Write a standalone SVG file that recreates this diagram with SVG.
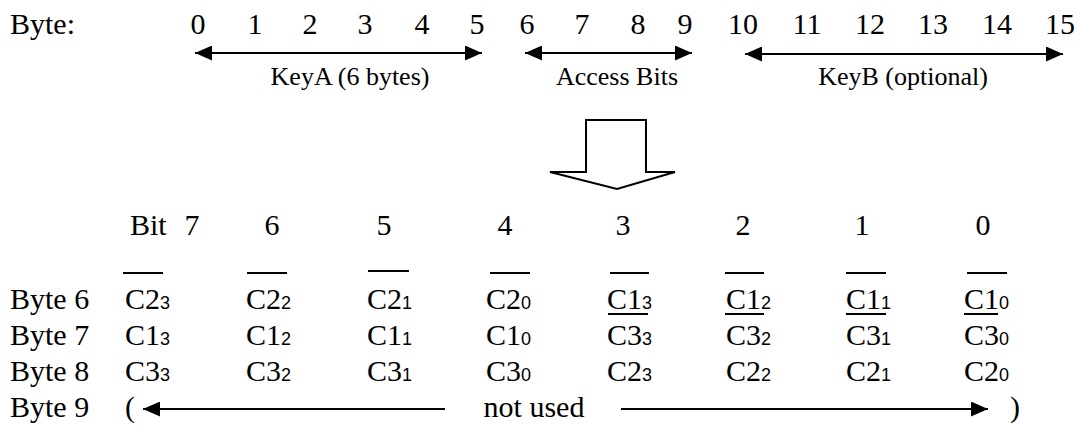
<svg xmlns="http://www.w3.org/2000/svg" width="1081" height="425" viewBox="0 0 1081 425" font-family="'Liberation Serif', 'Times New Roman', Tinos, 'DejaVu Serif', serif">
<style>
.t{font-family:'Liberation Serif','Times New Roman',Tinos,'DejaVu Serif',serif;fill:#000}
.big{font-size:30px}
.lbl{font-size:26px}
.mid{text-anchor:middle}
.sub{font-family:'Liberation Sans',Arial,sans-serif;font-size:18px}
.ln{stroke:#000;stroke-width:2;fill:none}
.arr{stroke:#000;stroke-width:2.2;fill:none}
</style>
<defs>
<marker id="ah" markerUnits="userSpaceOnUse" markerWidth="18" markerHeight="15" refX="17" refY="7.5" orient="auto-start-reverse">
<path d="M0,0 L17,7.5 L0,15 z" fill="#000"/>
</marker>
</defs>
<rect width="1081" height="425" fill="#fff"/>
<g id="byte-header" class="t">
<text class="big" x="10" y="34">Byte:</text>
<g class="big mid">
<text x="198" y="34">0</text><text x="255" y="34">1</text><text x="310" y="34">2</text><text x="365" y="34">3</text><text x="422" y="34">4</text><text x="477" y="34">5</text>
<text x="527" y="34">6</text><text x="582" y="34">7</text><text x="638" y="34">8</text><text x="685" y="34">9</text>
<text x="743" y="34">10</text><text x="807" y="34">11</text><text x="870" y="34">12</text><text x="933" y="34">13</text><text x="997" y="34">14</text><text x="1060" y="34">15</text>
</g>
</g>
<g id="connectors">
<line class="arr" x1="195" y1="53" x2="482" y2="53" marker-start="url(#ah)" marker-end="url(#ah)"/>
<line class="arr" x1="525" y1="53" x2="692" y2="53" marker-start="url(#ah)" marker-end="url(#ah)"/>
<line class="arr" x1="745" y1="54" x2="1063" y2="54" marker-start="url(#ah)" marker-end="url(#ah)"/>
<line class="arr" x1="143" y1="409" x2="445" y2="409" marker-start="url(#ah)"/>
<line class="arr" x1="621" y1="409" x2="988" y2="409" marker-end="url(#ah)"/>
</g>
<g id="keyA" class="t"><text class="lbl mid" x="350" y="85">KeyA (6 bytes)</text></g>
<g id="access-bits" class="t"><text class="lbl mid" x="617" y="85">Access Bits</text></g>
<g id="keyB" class="t"><text class="lbl mid" x="903" y="85">KeyB (optional)</text></g>
<g id="big-arrow">
<polygon class="ln" points="586,120 646,120 646,172 675,172 617,189 550,172 586,172"/>
</g>
<g id="bit-header" class="t big">
<text x="130" y="235">Bit</text>
<g class="mid">
<text x="192" y="235">7</text><text x="272" y="235">6</text><text x="384" y="235">5</text><text x="505" y="235">4</text>
<text x="623" y="235">3</text><text x="743" y="235">2</text><text x="862" y="235">1</text><text x="983" y="235">0</text>
</g>
</g>
<g id="row-labels" class="t big">
<text x="10" y="309">Byte 6</text>
<text x="10" y="345">Byte 7</text>
<text x="10" y="381">Byte 8</text>
<text x="10" y="417">Byte 9</text>
</g>
<g id="row-byte6" class="t big">
<text x="125" y="309">C2<tspan class="sub">3</tspan></text>
<text x="246" y="309">C2<tspan class="sub">2</tspan></text>
<text x="367" y="309">C2<tspan class="sub">1</tspan></text>
<text x="486" y="309">C2<tspan class="sub">0</tspan></text>
<text x="607" y="309">C1<tspan class="sub">3</tspan></text>
<text x="726" y="309">C1<tspan class="sub">2</tspan></text>
<text x="846" y="309">C1<tspan class="sub">1</tspan></text>
<text x="964" y="309">C1<tspan class="sub">0</tspan></text>
</g>
<g id="overbars" class="ln">
<line x1="123" y1="273" x2="163" y2="273"/>
<line x1="247" y1="273" x2="287" y2="273"/>
<line x1="368" y1="271" x2="409" y2="271"/>
<line x1="490" y1="273" x2="530" y2="273"/>
<line x1="610" y1="273" x2="649" y2="273"/>
<line x1="725" y1="273" x2="764" y2="273"/>
<line x1="846" y1="273" x2="886" y2="273"/>
<line x1="967" y1="273" x2="1007" y2="273"/>
</g>
<g id="underlines" class="ln">
<line x1="608" y1="314" x2="648" y2="314"/>
<line x1="725" y1="314" x2="764" y2="314"/>
<line x1="846" y1="314" x2="886" y2="314"/>
<line x1="964" y1="314" x2="998" y2="314"/>
</g>
<g id="row-byte7" class="t big">
<text x="125" y="345">C1<tspan class="sub">3</tspan></text>
<text x="246" y="345">C1<tspan class="sub">2</tspan></text>
<text x="367" y="345">C1<tspan class="sub">1</tspan></text>
<text x="486" y="345">C1<tspan class="sub">0</tspan></text>
<text x="607" y="345">C3<tspan class="sub">3</tspan></text>
<text x="726" y="345">C3<tspan class="sub">2</tspan></text>
<text x="846" y="345">C3<tspan class="sub">1</tspan></text>
<text x="964" y="345">C3<tspan class="sub">0</tspan></text>
</g>
<g id="row-byte8" class="t big">
<text x="125" y="381">C3<tspan class="sub">3</tspan></text>
<text x="246" y="381">C3<tspan class="sub">2</tspan></text>
<text x="367" y="381">C3<tspan class="sub">1</tspan></text>
<text x="486" y="381">C3<tspan class="sub">0</tspan></text>
<text x="607" y="381">C2<tspan class="sub">3</tspan></text>
<text x="726" y="381">C2<tspan class="sub">2</tspan></text>
<text x="846" y="381">C2<tspan class="sub">1</tspan></text>
<text x="964" y="381">C2<tspan class="sub">0</tspan></text>
</g>
<g id="row-byte9" class="t big">
<text x="125" y="417">(</text>
<text class="mid" x="534" y="417">not used</text>
<text x="1010" y="417">)</text>
</g>
</svg>
